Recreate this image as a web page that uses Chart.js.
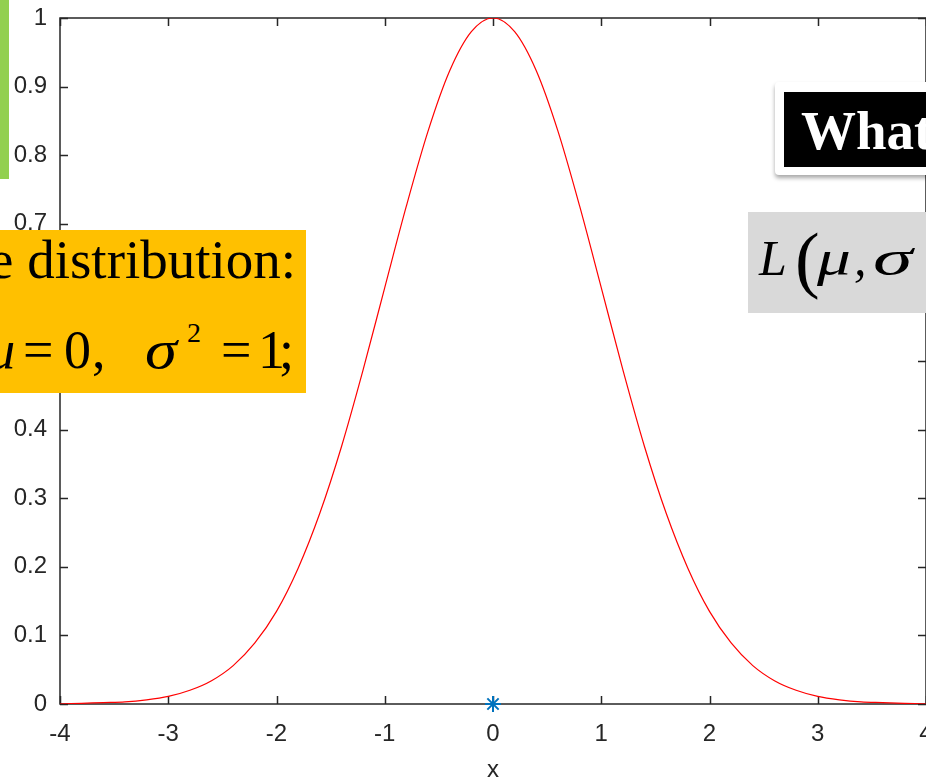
<!DOCTYPE html>
<html>
<head>
<meta charset="utf-8">
<script src="https://cdn.jsdelivr.net/npm/chart.js@4.4.0/dist/chart.umd.min.js"></script>
<style>
  html, body { margin: 0; padding: 0; background: #fff; }
  #wrap { position: relative; width: 926px; height: 780px; overflow: hidden; }
  #plot { position: absolute; left: 0; top: 0; }
  .note { position: absolute; overflow: hidden; white-space: pre; }
  .tk { position: absolute; white-space: pre; transform-origin: left center; }
  #greenBar { left: 0; top: 0; width: 9px; height: 179px; background: #92D050; }
  #orangeBox { left: 0; top: 230px; width: 306px; height: 163px; background: #FFC000;
    font-family: "Liberation Serif", "Times New Roman", serif; color: #000; font-size: 54px; line-height: 60px; }
  #orangeBox .l1 { left: -11px; top: 0; font-size: 55px; }
  #orangeBox .l2 { top: 90px; }
  #orangeBox .it { font-style: italic; }
  #orangeBox .sup { top: 88px; font-size: 28px; line-height: 30px; }
  #whatBox { left: 775px; top: 82px; width: 170px; height: 93px; background: #fff;
    border-radius: 4px; box-shadow: 0 3px 4px rgba(0,0,0,0.35); }
  #whatBox .inner { position: absolute; left: 9px; top: 10px; width: 160px; height: 75px; background: #000;
    color: #fff; font-family: "Liberation Serif", "Times New Roman", serif; font-weight: bold;
    font-size: 55px; line-height: 78px; padding-left: 17px; white-space: pre; overflow: hidden; }
  #greyBox { left: 748px; top: 212px; width: 178px; height: 101px; background: #D9D9D9;
    font-family: "Liberation Serif", "Times New Roman", serif; font-style: italic; font-size: 50px; line-height: 56px; color: #000; }
  #greyBox .tk { top: 18px; }
  #greyBox .paren { font-style: normal; font-size: 74px; line-height: 80px; top: 7px; }
</style>
</head>
<body>
<div id="wrap">
  <canvas id="plot" width="926" height="780"></canvas>
  <div class="note" id="greenBar"></div>
  <div class="note" id="orangeBox">
    <div class="tk l1">e distribution:</div>
    <div class="tk l2 it" style="left:-12px">μ</div>
    <div class="tk l2" style="left:23px">=</div>
    <div class="tk l2" style="left:64px">0</div>
    <div class="tk l2" style="left:92px">,</div>
    <div class="tk l2 it" style="left:145px; transform: scaleX(1.2)">σ</div>
    <div class="tk sup" style="left:187px">2</div>
    <div class="tk l2" style="left:221px">=</div>
    <div class="tk l2" style="left:258px">1</div>
    <div class="tk l2" style="left:279px">;</div>
  </div>
  <div class="note" id="whatBox"><div class="inner">What</div></div>
  <div class="note" id="greyBox">
    <div class="tk" style="left:11px">L</div>
    <div class="tk paren" style="left:47px">(</div>
    <div class="tk" style="left:69px; transform: scaleX(1.35)">μ</div>
    <div class="tk" style="left:106px">,</div>
    <div class="tk" style="left:125px; transform: scaleX(1.6)">σ</div>
  </div>
</div>
<script>
// sampled curve
var xValues = [-4, -3.8, -3.6, -3.4, -3.2, -3, -2.8, -2.6, -2.4, -2.2, -2, -1.8, -1.6, -1.4, -1.2, -1, -0.8, -0.6, -0.4, -0.2,
  0, 0.2, 0.4, 0.6, 0.8, 1, 1.2, 1.4, 1.6, 1.8, 2, 2.2, 2.4, 2.6, 2.8, 3, 3.2, 3.4, 3.6, 3.8, 4];
var yValues = [0.000, 0.001, 0.002, 0.003, 0.006, 0.011, 0.020, 0.034, 0.056, 0.089, 0.135, 0.198, 0.278, 0.375, 0.487, 0.607, 0.726, 0.835, 0.923, 0.980,
  1.000, 0.980, 0.923, 0.835, 0.726, 0.607, 0.487, 0.375, 0.278, 0.198, 0.135, 0.089, 0.056, 0.034, 0.020, 0.011, 0.006, 0.003, 0.002, 0.001, 0.000];

// marked point
var markX = [0];
var markY = [0];

var xTicks = [-4, -3, -2, -1, 0, 1, 2, 3, 4];
var yTicks = [0, 0.1, 0.2, 0.3, 0.4, 0.5, 0.6, 0.7, 0.8, 0.9, 1];
var yTickLabels = ['0', '0.1', '0.2', '0.3', '0.4', '0.5', '0.6', '0.7', '0.8', '0.9', '1'];

var axisColor = '#262626';
var tickFont = { family: 'Liberation Sans, Arial, sans-serif', size: 24 };

function noPadding() { return { left: 0, top: 0, right: 0, bottom: 0 }; }

// box and inward tick marks, drawn under the data like matlab
var framePlugin = {
  id: 'frame',
  beforeDatasetsDraw: function(chart) {
    var ctx = chart.ctx;
    var a = chart.chartArea;
    var sx = chart.scales.x, sy = chart.scales.y;
    ctx.save();
    ctx.strokeStyle = axisColor;
    ctx.lineWidth = 1.5;
    ctx.strokeRect(a.left, a.top, a.right - a.left, a.bottom - a.top);
    ctx.beginPath();
    xTicks.forEach(function(v) {
      var px = Math.round(sx.getPixelForValue(v)) + 0.5;
      ctx.moveTo(px, a.bottom); ctx.lineTo(px, a.bottom - 8);
      ctx.moveTo(px, a.top); ctx.lineTo(px, a.top + 8);
    });
    yTicks.forEach(function(v) {
      var py = Math.round(sy.getPixelForValue(v)) + 0.5;
      ctx.moveTo(a.left, py); ctx.lineTo(a.left + 8, py);
      ctx.moveTo(a.right, py); ctx.lineTo(a.right - 8, py);
    });
    ctx.stroke();
    ctx.restore();
  }
};

var curveData = xValues.map(function(x, i) { return { x: x, y: yValues[i] }; });
var markData = markX.map(function(x, i) { return { x: x, y: markY[i] }; });

var chart = new Chart(document.getElementById('plot'), {
  type: 'line',
  data: {
    datasets: [
      {
        data: curveData,
        borderColor: '#FF0000',
        borderWidth: 1.2,
        pointRadius: 0,
        cubicInterpolationMode: 'monotone',
        fill: false
      },
      {
        data: markData,
        showLine: false,
        pointStyle: 'star',
        pointRadius: 8,
        borderColor: '#0072BD',
        backgroundColor: '#0072BD',
        pointBorderWidth: 2,
        clip: false
      }
    ]
  },
  options: {
    responsive: false,
    animation: false,
    events: [],
    layout: { autoPadding: false, padding: { top: 18, right: 0, left: 0, bottom: 0 } },
    plugins: { legend: { display: false }, tooltip: { enabled: false } },
    scales: {
      x: {
        type: 'linear',
        min: -4,
        max: 4,
        grid: { display: false, drawTicks: false },
        border: { display: false },
        afterBuildTicks: function(scale) { scale.ticks = xTicks.map(function(v) { return { value: v }; }); },
        afterFit: function(scale) {
          scale.height = 76;
          scale.paddingLeft = 0; scale.paddingRight = 0;
          scale.getPadding = noPadding;
        },
        ticks: {
          color: axisColor,
          font: tickFont,
          padding: 16,
          maxRotation: 0,
          autoSkip: false,
          callback: function(v) { return String(v); }
        },
        title: {
          display: true,
          text: 'x',
          color: axisColor,
          font: tickFont,
          padding: { top: 0, bottom: -5 }
        }
      },
      y: {
        min: 0,
        max: 1,
        grid: { display: false, drawTicks: false },
        border: { display: false },
        afterBuildTicks: function(scale) { scale.ticks = yTicks.map(function(v) { return { value: v }; }); },
        afterFit: function(scale) {
          scale.width = 60;
          scale.paddingTop = 0; scale.paddingBottom = 0;
          scale.getPadding = noPadding;
        },
        ticks: {
          color: axisColor,
          font: tickFont,
          padding: 13,
          autoSkip: false,
          callback: function(v, i) { return yTickLabels[i]; }
        }
      }
    }
  },
  plugins: [framePlugin]
});
</script>
</body>
</html>
